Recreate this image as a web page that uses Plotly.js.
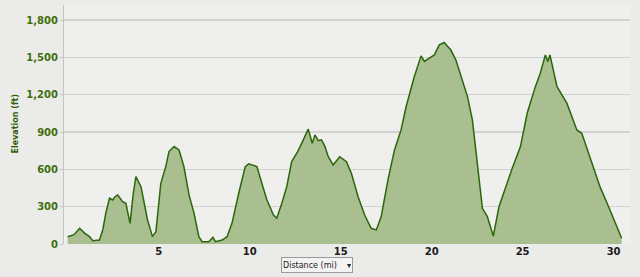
<!DOCTYPE html>
<html>
<head>
<meta charset="utf-8">
<script src="https://cdn.plot.ly/plotly-3.0.1.min.js"></script>
<style>html,body{margin:0;padding:0;background:#ebebe9;}#chart{width:640px;height:277px;}</style>
</head>
<body>
<div id="chart"></div>
<script>
const distance = [0, 0.35, 0.66, 0.93, 1.2, 1.38, 1.75, 1.93, 2.1, 2.3, 2.48, 2.6, 2.75, 2.9, 3.02, 3.2, 3.43, 3.6, 3.75, 4.03, 4.39, 4.66, 4.85, 5.12, 5.39, 5.57, 5.85, 6.12, 6.39, 6.67, 6.94, 7.21, 7.39, 7.76, 7.98, 8.12, 8.49, 8.76, 9.03, 9.4, 9.76, 9.95, 10.4, 10.67, 10.95, 11.31, 11.49, 11.77, 12.04, 12.31, 12.64, 12.95, 13.22, 13.44, 13.59, 13.77, 13.95, 14.14, 14.32, 14.59, 14.95, 15.32, 15.59, 15.96, 16.32, 16.68, 16.96, 17.23, 17.6, 17.96, 18.32, 18.6, 19.05, 19.42, 19.6, 19.87, 20.15, 20.42, 20.69, 20.87, 21.05, 21.33, 21.97, 22.24, 22.51, 22.79, 23.06, 23.39, 23.7, 24.06, 24.43, 24.88, 25.25, 25.7, 25.97, 26.25, 26.38, 26.5, 26.89, 27.43, 27.98, 28.25, 28.7, 29.25, 29.8, 30.16, 30.44];
const elevation = [59, 75, 126, 88, 60, 27, 32, 113, 250, 368, 354, 380, 394, 360, 340, 327, 166, 400, 541, 461, 193, 59, 99, 488, 622, 743, 783, 756, 622, 395, 250, 59, 19, 19, 54, 19, 32, 59, 166, 408, 622, 644, 622, 488, 354, 233, 207, 327, 461, 662, 743, 837, 923, 810, 877, 830, 837, 783, 702, 636, 702, 662, 569, 380, 233, 126, 113, 220, 515, 756, 917, 1105, 1346, 1512, 1467, 1494, 1520, 1601, 1620, 1590, 1561, 1480, 1185, 998, 649, 287, 220, 64, 300, 461, 609, 783, 1051, 1265, 1373, 1520, 1467, 1520, 1265, 1132, 917, 890, 702, 461, 273, 139, 46];
const yTicks = [0, 300, 600, 900, 1200, 1500, 1800];
const yTickLabels = ["0", "300", "600", "900", "1,200", "1,500", "1,800"];
const xTicks = [5, 10, 15, 20, 25, 30];
const yTitle = "Elevation (ft)";
const xTitle = "Distance (mi)";

const trace = {
  x: distance, y: elevation, type: 'scatter', mode: 'lines',
  fill: 'tozeroy', fillcolor: '#a9bf90',
  line: {color: '#2b660c', width: 1.5, shape: 'linear'},
  hoverinfo: 'skip'
};

const layout = {
  width: 640, height: 277,
  margin: {l: 64, r: 10, t: 5, b: 33},
  paper_bgcolor: '#ebebe9', plot_bgcolor: '#efefed',
  showlegend: false,
  xaxis: {
    range: [-0.2, 30.9], tickvals: xTicks, ticktext: xTicks.map(String),
    showgrid: false, zeroline: false, showline: false,
    ticks: '', ticklen: 0,
    tickfont: {family: 'DejaVu Sans', size: 10, color: '#1a1a1a', weight: 'bold'}
  },
  yaxis: {
    range: [0, 1921], tickvals: yTicks, ticktext: yTickLabels,
    showgrid: true, gridcolor: '#d2d2d0', gridwidth: 1.2,
    zeroline: false, showline: true, linecolor: '#c4c4c2', linewidth: 1,
    ticks: 'outside', ticklen: 3, tickcolor: '#c4c4c2',
    tickfont: {family: 'DejaVu Sans', size: 10, color: '#3f6f0a', weight: 'bold'}
  },
  annotations: [
    {text: yTitle, xref: 'paper', yref: 'paper', x: 0, y: 0.5, xanchor: 'center', yanchor: 'middle',
     xshift: -49, textangle: -90, showarrow: false,
     font: {family: 'DejaVu Sans', size: 8, color: '#2f5f05', weight: 'bold'}},
    {text: xTitle + '&nbsp;&nbsp;&nbsp;&nbsp;▾', xref: 'paper', yref: 'paper', x: 0.447, y: 0, xanchor: 'center', yanchor: 'top',
     yshift: -13, width: 68, height: 12, align: 'left', showarrow: false, bgcolor: '#f3f3f3', bordercolor: '#9a9a9a', borderwidth: 1, borderpad: 1,
     font: {family: 'DejaVu Sans', size: 8, color: '#222222'}}
  ]
};

Plotly.newPlot('chart', [trace], layout, {displayModeBar: false, staticPlot: true});
</script>
</body>
</html>
